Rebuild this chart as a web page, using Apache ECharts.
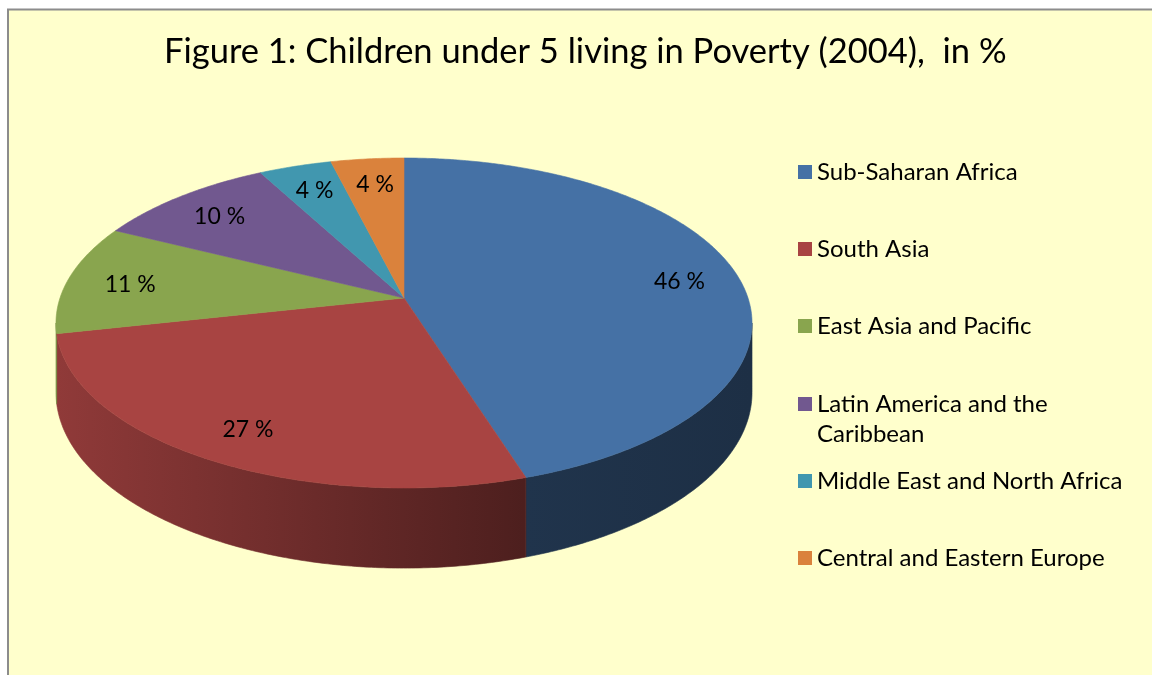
<!DOCTYPE html>
<html><head><meta charset="utf-8">
<script src="https://cdn.jsdelivr.net/npm/echarts@6/dist/echarts.min.js"></script>
<style>html,body{margin:0;padding:0;background:#fff}#c{width:1152px;height:675px}</style>
</head><body><div id="c"></div>
<script>
// ---- data ----
const titleText = 'Figure 1: Children under 5 living in Poverty (2004),  in %';
const regions = ['Sub-Saharan Africa', 'South Asia', 'East Asia and Pacific', 'Latin America and the Caribbean', 'Middle East and North Africa', 'Central and Eastern Europe'];
const shares = [46, 27, 11, 10, 4, 4];
const legendLabels = ['Sub-Saharan Africa', 'South Asia', 'East Asia and Pacific', '\nLatin America and the\nCaribbean', 'Middle East and North Africa', 'Central and Eastern Europe'];
const colors = ['#4571A5', '#A84442', '#89A54E', '#71588F', '#4197AF', '#DA823C'];

// ---- drawing ----
const chart = echarts.init(document.getElementById('c'), null, { renderer: 'canvas' });
const total = shares.reduce((a, b) => a + b, 0);
const starts = [];
let acc = 0;
shares.forEach(v => { starts.push(acc); acc += v; });

// perspective-tilted pie projection
const P = { cx: 404, cy: 298, rx: 344, ry: 161.2, k: 0.1515, depth: 68 };
function proj(theta, r, drop) {
  const u = r * Math.sin(theta), v = -r * Math.cos(theta);
  const d = 1 - P.k * v;
  return [P.cx + P.rx * u / d, P.cy + P.ry * v / d + (drop ? P.depth / d : 0)];
}
function shade(hex, f) {
  const n = parseInt(hex.slice(1), 16);
  const r = Math.round(((n >> 16) & 255) * f), g = Math.round(((n >> 8) & 255) * f), b = Math.round((n & 255) * f);
  return 'rgb(' + r + ',' + g + ',' + b + ')';
}
const wL = Math.acos(-P.k);
const wR = 2 * Math.PI - wL;

function makeRender(i) {
  return function (params, api) {
    const start = api.value(0), val = api.value(1), tot = api.value(2);
    const a0 = start / tot * 2 * Math.PI, a1 = (start + val) / tot * 2 * Math.PI;
    const children = [];
    const col = colors[i];
    // outer wall
    const w0 = Math.max(a0, wL), w1 = Math.min(a1, wR);
    if (w1 > w0) {
      const n = Math.max(6, Math.ceil((w1 - w0) / 0.01));
      const pts = [];
      for (let j = 0; j <= n; j++) pts.push(proj(w0 + (w1 - w0) * j / n, 1, false));
      for (let j = n; j >= 0; j--) pts.push(proj(w0 + (w1 - w0) * j / n, 1, true));
      const grad = new echarts.graphic.LinearGradient(56, 0, 752, 0, [
        { offset: 0, color: shade(col, 0.86) },
        { offset: 0.672, color: shade(col, 0.46) },
        { offset: 1, color: shade(col, 0.42) }
      ], true);
      children.push({ type: 'polygon', z2: 1, shape: { points: pts }, style: { fill: grad, stroke: grad, lineWidth: 0.6 } });
    }
    // top face
    const n2 = Math.max(6, Math.ceil((a1 - a0) / 0.01));
    const top = [[P.cx, P.cy]];
    for (let j = 0; j <= n2; j++) top.push(proj(a0 + (a1 - a0) * j / n2, 1, false));
    children.push({ type: 'polygon', z2: 10, shape: { points: top }, style: { fill: col, stroke: col, lineWidth: 0.6 } });
    // value label
    const mid = (a0 + a1) / 2;
    const lp = proj(mid, 0.82, false);
    children.push({ type: 'text', z2: 20, x: lp[0] + 2, y: lp[1] + 3, style: { text: val + ' %', fill: '#000', font: '23px Lato', align: 'center', verticalAlign: 'middle' } });
    return { type: 'group', children: children };
  };
}

const series = regions.map((name, i) => ({
  type: 'custom',
  name: name,
  coordinateSystem: 'none',
  itemStyle: { color: colors[i] },
  silent: true,
  animation: false,
  data: [[starts[i], shares[i], total]],
  renderItem: makeRender(i)
}));

const legendIconY = [172, 249, 326, 404, 481, 558];
const legends = regions.map((name, i) => {
  const lines = legendLabels[i].split('\n').length;
  const lh = lines > 1 ? 30 : 28;
  return {
    data: [name],
    orient: 'vertical',
    left: 798,
    top: legendIconY[i] - lines * lh / 2,
    padding: 0,
    icon: 'rect',
    itemWidth: 14,
    itemHeight: 14,
    selectedMode: false,
    formatter: () => legendLabels[i],
    textStyle: { fontFamily: 'Lato', fontSize: 24, color: '#000', lineHeight: lh }
  };
});

chart.setOption({
  backgroundColor: '#ffffff',
  animation: false,
  title: {
    text: titleText,
    left: 164,
    top: 34,
    padding: 0,
    textStyle: { fontFamily: 'Lato', fontSize: 34.5, fontWeight: 'normal', color: '#000' }
  },
  graphic: [
    { type: 'rect', z: -10, shape: { x: 9, y: 10, width: 1143, height: 665 }, style: { fill: '#FFFFCC' } },
    { type: 'polyline', z: -9, shape: { points: [[8, 675], [8, 9.5], [1152, 9.5]] }, style: { stroke: '#8c8c8c', lineWidth: 2, fill: null } }
  ],
  legend: legends,
  series: series
});
</script></body></html>
